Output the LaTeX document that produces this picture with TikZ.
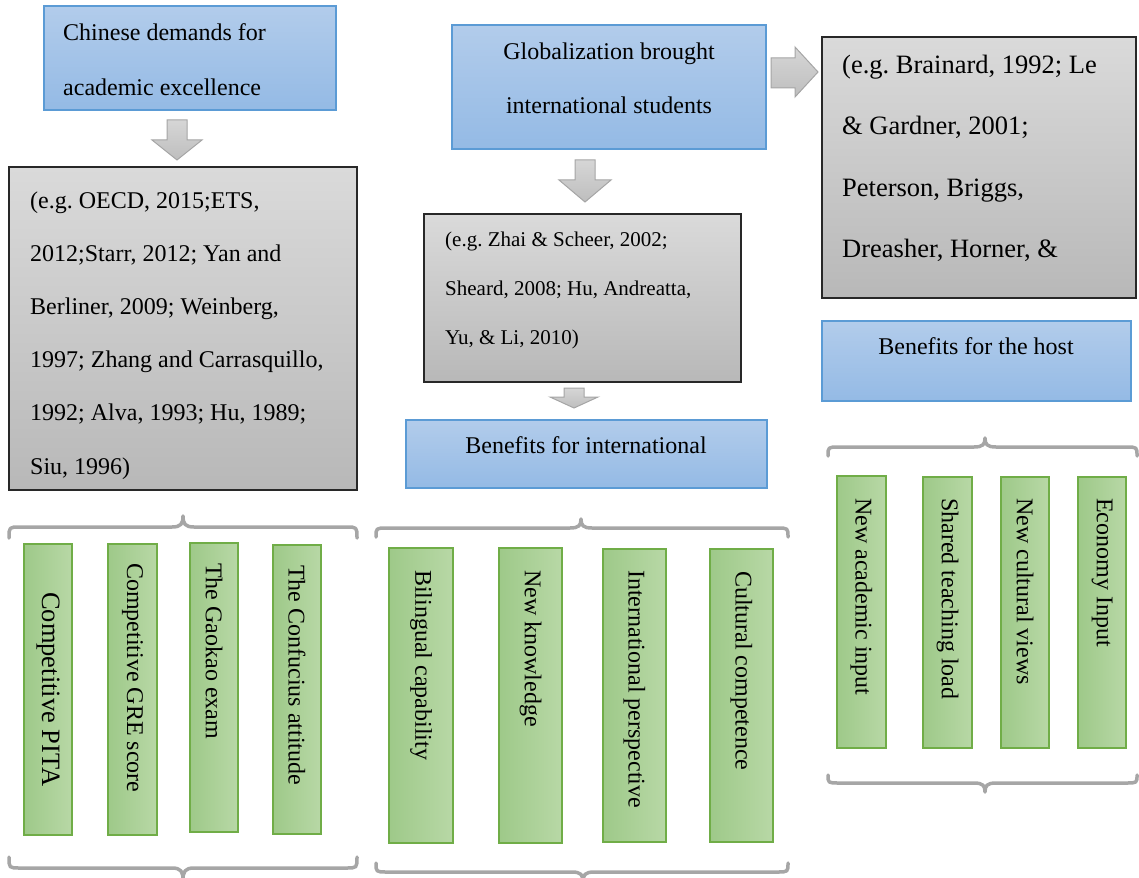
\documentclass[tikz,border=0pt]{standalone}
\usepackage{fontspec}
\setmainfont{Liberation Serif}
\frenchspacing
\definecolor{bluetop}{RGB}{178,204,235}
\definecolor{bluebot}{RGB}{148,186,229}
\definecolor{bluebd}{RGB}{91,155,213}
\definecolor{graytop}{RGB}{218,218,218}
\definecolor{graybot}{RGB}{184,184,184}
\definecolor{graybd}{RGB}{40,40,40}
\definecolor{greenleft}{RGB}{158,201,137}
\definecolor{greenright}{RGB}{184,216,166}
\definecolor{greenbd}{RGB}{112,173,71}
\definecolor{arrowtop}{RGB}{214,214,214}
\definecolor{arrowbot}{RGB}{190,190,190}
\definecolor{arrowbd}{RGB}{165,165,165}
\definecolor{bracec}{RGB}{166,166,166}
\newcommand\rbox[6]{\node[#2, minimum width={#5-#3}, minimum height={#6-#4}, inner sep=0pt, outer sep=0pt] (#1) at ({(#3+#5)/2},{(#4+#6)/2}) {};}
\newcommand\hbrace[6]{\draw[bracestyle] (#1,#6) .. controls (#1,#4) .. ({#1+11},#4) -- ({#3-11},#4) .. controls ({#3-2},#4) and (#3,{#4+0.3*(#5-#4)}) .. (#3,#5) .. controls (#3,{#4+0.3*(#5-#4)}) and ({#3+2},#4) .. ({#3+11},#4) -- ({#2-11},#4) .. controls (#2,#4) .. (#2,#6);}
\newcommand\downarrowshape[6]{% cx, top, headstart, tip, shafthalf, headhalf
\draw[blockarrow] ({#1-#5},#2) -- ({#1+#5},#2) -- ({#1+#5},#3) -- ({#1+#6},#3) -- (#1,#4) -- ({#1-#6},#3) -- ({#1-#5},#3) -- cycle;}
\tikzset{
  x=1pt, y=-1pt,
  bluebox/.style={draw=bluebd, line width=1.2pt, top color=bluetop, bottom color=bluebot},
  graybox/.style={draw=graybd, line width=1.3pt, top color=graytop, bottom color=graybot},
  greenbox/.style={draw=greenbd, line width=1.2pt, left color=greenleft, right color=greenright},
  blockarrow/.style={draw=arrowbd, line width=1pt, top color=arrowtop, bottom color=arrowbot},
  bracestyle/.style={draw=bracec, line width=3.5pt, line cap=round, line join=round},
  txt/.style={inner sep=0pt, align=left, text=black},
  vtxt/.style={inner sep=0pt, rotate=-90, anchor=west, text=black, font=\fontsize{24}{28}\selectfont},
}
\begin{document}
\begin{tikzpicture}
\useasboundingbox (0,0) rectangle (1139,877);
% top boxes (multi-line texts are anchored at the baseline of their last line)
\rbox{b1}{bluebox}{44}{6}{336}{110}
\node[txt, anchor=base west, font=\fontsize{24}{55}\selectfont] (b1t) at (63,96) {Chinese demands for\\academic excellence};
\rbox{b2}{bluebox}{452}{25}{766}{149}
\node[txt, anchor=base, align=center, font=\fontsize{24}{54}\selectfont] (b2t) at (609,114) {Globalization brought\\international students};
\rbox{g3}{graybox}{822}{37}{1136}{298}
\node[txt, anchor=base west, font=\fontsize{26.5}{61}\selectfont] (g3t) at (842,257) {(e.g. Brainard, 1992; Le\\\& Gardner, 2001;\\Peterson, Briggs,\\Dreasher, Horner, \&};
\rbox{g1}{graybox}{9}{167}{357}{490}
\node[txt, anchor=base west, font=\fontsize{24}{53.2}\selectfont] (g1t) at (30,474) {(e.g. OECD, 2015;ETS,\\2012;Starr, 2012; Yan and\\Berliner, 2009; Weinberg,\\1997; Zhang and Carrasquillo,\\1992; Alva, 1993; Hu, 1989;\\Siu, 1996)};
\rbox{g2}{graybox}{424}{214}{741}{382}
\node[txt, anchor=base west, font=\fontsize{21}{49}\selectfont] (g2t) at (445,344) {(e.g. Zhai \& Scheer, 2002;\\Sheard, 2008; Hu, Andreatta,\\Yu, \& Li, 2010)};
\rbox{b3}{bluebox}{406}{420}{767}{488}
\node[txt, anchor=base, font=\fontsize{24}{28}\selectfont] (b3t) at (586,453) {Benefits for international};
\rbox{b4}{bluebox}{822}{321}{1131}{401}
\node[txt, anchor=base, font=\fontsize{24}{28}\selectfont] (b4t) at (976,354) {Benefits for the host};
% block arrows
\downarrowshape{177}{120}{140}{160}{10}{25}
\downarrowshape{585}{160}{180}{202}{10}{26}
\downarrowshape{574}{388}{397}{408}{10}{24}
\draw[blockarrow] (771,58) -- (795,58) -- (795,47) -- (818,72) -- (795,97) -- (795,88) -- (771,88) -- cycle;
% braces
\hbrace{9}{357}{183}{527}{516}{538}
\hbrace{9}{357}{183}{868}{880}{857}
\hbrace{376}{788}{581}{528}{519}{537}
\hbrace{376}{788}{583}{872}{882}{863}
\hbrace{828}{1137}{985}{447}{438}{456}
\hbrace{828}{1137}{985}{783}{792}{775}
% green boxes left
\rbox{l1}{greenbox}{24}{544}{72}{835}
\node[vtxt, font=\fontsize{26.5}{30}\selectfont] (l1t) at (48,592) {Competitive PITA};
\rbox{l2}{greenbox}{108}{544}{157}{835}
\node[vtxt] (l2t) at (132.5,563) {Competitive GRE score};
\rbox{l3}{greenbox}{190}{543}{238}{832}
\node[vtxt] (l3t) at (214,563) {The Gaokao exam};
\rbox{l4}{greenbox}{273}{545}{321}{834}
\node[vtxt] (l4t) at (297,565) {The Confucius attitude};
% green boxes middle
\rbox{m1}{greenbox}{389}{548}{453}{843}
\node[vtxt] (m1t) at (421,570) {Bilingual capability};
\rbox{m2}{greenbox}{499}{548}{562}{843}
\node[vtxt] (m2t) at (530.5,570) {New knowledge};
\rbox{m3}{greenbox}{603}{549}{666}{842}
\node[vtxt] (m3t) at (634.5,570) {International perspective};
\rbox{m4}{greenbox}{710}{549}{773}{842}
\node[vtxt] (m4t) at (741.5,571) {Cultural competence};
% green boxes right
\rbox{r1}{greenbox}{837}{476}{886}{748}
\node[vtxt] (r1t) at (861.5,498) {New academic input};
\rbox{r2}{greenbox}{923}{477}{972}{748}
\node[vtxt] (r2t) at (947.5,498) {Shared teaching load};
\rbox{r3}{greenbox}{1001}{477}{1049}{748}
\node[vtxt] (r3t) at (1025,498) {New cultural views};
\rbox{r4}{greenbox}{1078}{477}{1126}{748}
\node[vtxt] (r4t) at (1102,498) {Economy Input};
\end{tikzpicture}
\end{document}
